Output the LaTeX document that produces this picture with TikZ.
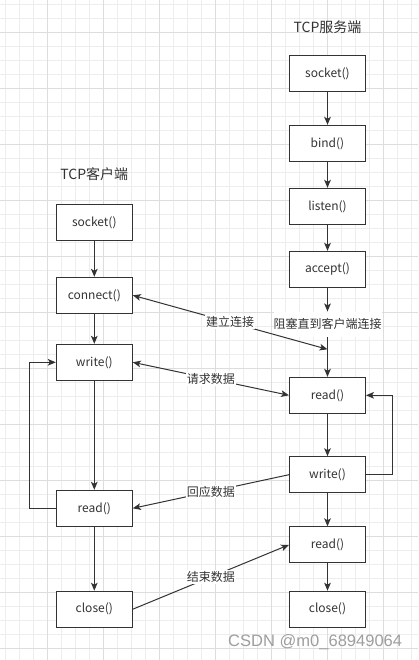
\documentclass[tikz,border=0pt]{standalone}
\usepackage{fontspec}
\setmainfont{Noto Sans CJK SC}
\newfontfamily\wmfont{Liberation Sans}
\usetikzlibrary{arrows.meta}
\definecolor{ink}{HTML}{333333}
\definecolor{gridminor}{HTML}{EDEDED}
\definecolor{gridmajor}{HTML}{DDDDDD}
\tikzset{ktip/.tip={Stealth[length=6pt,width=5pt,inset=1.5pt]}}
\begin{document}
\begin{tikzpicture}[x=0.75pt,y=-0.75pt,
  box/.style={draw=ink, line width=0.75pt, fill=white, minimum width=57pt, minimum height=27pt, inner sep=0pt, text=ink, font=\fontsize{9}{11}\selectfont},
  title/.style={text=ink, inner sep=0pt, font=\fontsize{10.5}{12}\selectfont},
  elabel/.style={fill=white, text=ink, inner sep=1pt, font=\fontsize{9}{11}\selectfont},
  arr/.style={draw=ink, line width=0.75pt, -{ktip}},
  darr/.style={draw=ink, line width=0.75pt, {ktip}-{ktip}}]
\useasboundingbox (0,0) rectangle (418,660);
\fill[white] (0,0) rectangle (418,660);
% grid
\begin{scope}[line width=0.75pt]
\foreach \x in {5.5,19.5,...,412} \draw[gridminor] (\x,0) -- (\x,660);
\foreach \y in {4.3,18.3,...,655} \draw[gridminor] (0,\y) -- (418,\y);
\foreach \x in {47.5,103.5,...,412} \draw[gridmajor] (\x,0) -- (\x,660);
\foreach \y in {32.3,88.3,...,655} \draw[gridmajor] (0,\y) -- (418,\y);
\end{scope}
% titles
\node[title] (ts) at (327.5,26.7) {TCP服务端};
\node[title] (tc) at (94.3,174) {TCP客户端};
% server column
\node[box] (ssock) at (327.5,73.3) {socket()};
\node[box] (sbind) at (327.5,143.3) {bind()};
\node[box] (slisten) at (327.5,206.3) {listen()};
\node[box] (saccept) at (327.5,269.3) {accept()};
\node[fill=white, text=ink, inner sep=0pt, minimum height=18.75pt, font=\fontsize{9}{11}\selectfont] (block) at (327.5,324.2) {阻塞直到客户端连接};
\node[box] (sread) at (327.5,395.3) {read()};
\node[box] (swrite) at (327.5,474.7) {write()};
\node[box] (sread2) at (327.5,544.8) {read()};
\node[box] (sclose) at (327.5,609.2) {close()};
% client column
\node[box] (csock) at (94.3,222.3) {socket()};
\node[box] (cconn) at (94.3,295.3) {connect()};
\node[box] (cwrite) at (94.3,362.3) {write()};
\node[box] (cread) at (94.3,508.3) {read()};
\node[box] (cclose) at (94.3,609.2) {close()};
% vertical flow
\draw[arr] (ssock) -- (sbind);
\draw[arr] (sbind) -- (slisten);
\draw[arr] (slisten) -- (saccept);
\draw[arr] (saccept) -- (block);
\draw[arr] (block) -- (sread);
\draw[arr] (sread) -- (swrite);
\draw[arr] (swrite) -- (sread2);
\draw[arr] (sread2) -- (sclose);
\draw[arr] (csock) -- (cconn);
\draw[arr] (cconn) -- (cwrite);
\draw[arr] (cwrite) -- (cread);
\draw[arr] (cread) -- (cclose);
% loops
\draw[arr] (cread.west) -- ++(-26.5,0) |- (cwrite.west);
\draw[arr] (swrite.east) -- ++(26.5,0) |- (sread.east);
% cross connections
\coordinate (join) at (327.5,349.3);
\draw[darr] (cconn.east) -- node[elabel] {建立连接} (join);
\draw[darr] (cwrite.east) -- node[elabel] {请求数据} (sread.west);
\draw[arr] (swrite.west) -- node[elabel] {回应数据} (cread.east);
\draw[arr] (cclose.east) -- node[elabel] {结束数据} (sread2.west);
% watermark
\node[text=black!38, inner sep=0pt, font=\wmfont\fontsize{12.4}{14}\selectfont] (wm) at (315.2,641.7) {CSDN @m0\_68949064};
\end{tikzpicture}
\end{document}
